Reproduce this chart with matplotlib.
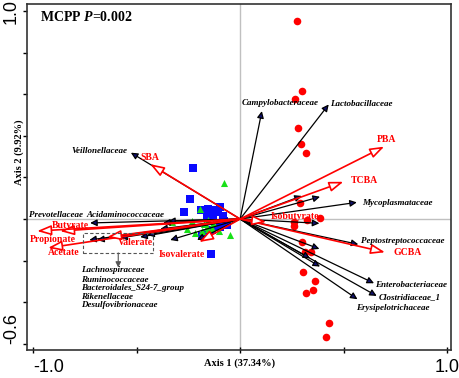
import matplotlib
matplotlib.use("Agg")
import matplotlib.pyplot as plt
from matplotlib.patches import FancyArrowPatch, Rectangle

plt.rcParams["mathtext.fontset"] = "custom"
plt.rcParams["mathtext.bfit"] = "Liberation Serif:italic:bold"
plt.rcParams["mathtext.it"] = "Liberation Serif:italic:bold"
plt.rcParams["mathtext.rm"] = "Liberation Serif:bold"

# muestras (Axis 1, Axis 2)
rojo_x = [0.274, 0.301, 0.267, 0.282, 0.293, 0.317, 0.290, 0.262, 0.262, 0.325,
          0.386, 0.298, 0.314, 0.343, 0.306, 0.362, 0.350, 0.319, 0.431, 0.414]
rojo_y = [0.953, 0.617, 0.578, 0.436, 0.359, 0.319, 0.075, -0.014, -0.034, -0.005,
          0.003, -0.111, -0.157, -0.157, -0.253, -0.298, -0.341, -0.356, -0.501, -0.569]

azul_x = [-0.227, -0.242, -0.271, -0.188, -0.155, -0.121, -0.097, -0.106, -0.159,
          -0.130, -0.082, -0.077, -0.063, -0.097, -0.164, -0.184, -0.135, -0.140]
azul_y = [0.245, 0.096, 0.034, 0.043, 0.048, 0.043, 0.058, 0.034, 0.019,
          0.010, 0.014, -0.010, -0.029, -0.038, -0.067, -0.082, -0.053, -0.168]

verde_x = [-0.077, -0.193, -0.327, -0.233, -0.153, -0.129, -0.257, -0.217,
           -0.185, -0.153, -0.137, -0.100, -0.048, -0.161, -0.174]
verde_y = [0.175, 0.047, -0.016, -0.010, -0.005, -0.021, -0.050, -0.066,
           -0.056, -0.050, -0.045, -0.056, -0.077, -0.037, -0.024]

# familias bacterianas (flechas negras)
familias = ["Veillonellaceae", "Campylobacteraceae", "Lactobacillaceae", "Mycoplasmataceae",
            "Peptostreptococcaceae", "Enterobacteriaceae", "Clostridiaceae_1",
            "Erysipelotrichaceae", "Prevotellaceae", "Acidaminococcaceae",
            "Lachnospiraceae", "Ruminococcaceae", "Bacteroidales_S24-7_group",
            "Rikenellaceae", "Desulfovibrionaceae",
            "", "", "", "", "", "", "", "", "", ""]
fam_x = [-0.528, 0.105, 0.428, 0.564, 0.571, 0.647, 0.660, 0.567, -0.725, -0.348,
         -0.729, -0.691, -0.580, -0.483, -0.449,
         0.298, 0.386, 0.383, 0.383, 0.338, 0.386, -0.372, -0.386, -0.338, -0.208]
fam_y = [0.319, 0.519, 0.551, 0.080, -0.122, -0.309, -0.370, -0.386, -0.019, -0.010,
         -0.101, -0.101, -0.091, -0.087, -0.077,
         0.111, 0.107, -0.021, -0.144, -0.189, -0.229, -0.018, -0.048, -0.101, -0.101]

# variables ambientales (flechas rojas)
variables = ["SBA", "PBA", "TCBA", "GCBA", "Isobutyrate", "Butyrate", "Propionate",
             "Acetate", "Valerate", "Isovalerate"]
var_x = [-0.435, 0.696, 0.499, 0.700, 0.126, -0.870, -0.981, -0.928, -0.643, -0.198]
var_y = [0.264, 0.348, 0.179, -0.160, -0.014, -0.058, -0.058, -0.139, -0.087, -0.111]

# posiciones de etiquetas
pos_fam = {
    "Veillonellaceae": (-0.546, 0.327, "right"),
    "Campylobacteraceae": (0.193, 0.558, "center"),
    "Lactobacillaceae": (0.435, 0.553, "left"),
    "Mycoplasmataceae": (0.589, 0.077, "left"),
    "Peptostreptococcaceae": (0.585, -0.106, "left"),
    "Enterobacteriaceae": (0.652, -0.317, "left"),
    "Clostridiaceae_1": (0.671, -0.375, "left"),
    "Erysipelotrichaceae": (0.560, -0.428, "left"),
    "Prevotellaceae": (-1.019, 0.019, "left"),
    "Acidaminococcaceae": (-0.744, 0.019, "left"),
}
lista_caja = ["Lachnospiraceae", "Ruminococcaceae", "Bacteroidales_S24-7_group",
              "Rikenellaceae", "Desulfovibrionaceae"]
lista_y = [-0.245, -0.291, -0.334, -0.375, -0.413]
pos_var = {
    "SBA": (-0.435, 0.298, "center"),
    "PBA": (0.662, 0.380, "left"),
    "TCBA": (0.536, 0.183, "left"),
    "GCBA": (0.739, -0.163, "left"),
    "Isobutyrate": (0.150, 0.010, "left"),
    "Butyrate": (-0.821, -0.029, "center"),
    "Propionate": (-1.014, -0.101, "left"),
    "Acetate": (-0.928, -0.163, "left"),
    "Valerate": (-0.589, -0.111, "left"),
    "Isovalerate": (-0.396, -0.173, "left"),
}

serif = "Liberation Serif"

fig = plt.figure(figsize=(4.59, 3.78), dpi=100)
ax = fig.add_axes([0.0588, 0.0741, 0.9238, 0.9153])
ax.set_xlim(-1.03, 1.019)
ax.set_ylim(-0.63, 1.034)

ax.axhline(0, color="#c0c0c0", lw=1, zorder=0)
ax.axvline(0, color="#c0c0c0", lw=1, zorder=0)

ax.scatter(rojo_x, rojo_y, s=30, marker="o", color="#ff0000", zorder=2, linewidths=0)
ax.scatter(azul_x, azul_y, s=32, marker="s", color="#0a0aff", zorder=2, linewidths=0)
ax.scatter(verde_x, verde_y, s=26, marker="^", color="#18e018", zorder=2, linewidths=0)

for x, y in zip(fam_x, fam_y):
    ax.add_patch(FancyArrowPatch((0, 0), (x, y), arrowstyle="-|>,head_length=0.45,head_width=0.22",
                                 mutation_scale=9, lw=0.9, ec="black", fc="#101070",
                                 shrinkA=0, shrinkB=0, zorder=3))

for x, y in zip(var_x, var_y):
    ax.add_patch(FancyArrowPatch((0, 0), (x, y), arrowstyle="-|>,head_length=0.85,head_width=0.3",
                                 mutation_scale=10, lw=1.2, ec="#ff0000", fc="white",
                                 shrinkA=0, shrinkB=0, zorder=4))

for nombre, (x, y, ha) in pos_fam.items():
    ax.text(x, y, nombre, ha=ha, va="center", fontsize=6.5, family=serif,
            style="italic", weight="bold", zorder=5)
for nombre, y in zip(lista_caja, lista_y):
    ax.text(-0.768, y, nombre, ha="left", va="center", fontsize=6.5, family=serif,
            style="italic", weight="bold", zorder=5)
for nombre, (x, y, ha) in pos_var.items():
    ax.text(x, y, nombre, ha=ha, va="center", fontsize=7, family=serif,
            weight="bold", color="#ff0000", zorder=5)

ax.add_patch(Rectangle((-0.758, -0.163), 0.338, 0.096, fill=False, ls=(0, (3, 2)),
                       ec="#555555", lw=0.8, zorder=5))
ax.annotate("", xy=(-0.589, -0.233), xytext=(-0.589, -0.163),
            arrowprops=dict(arrowstyle="-|>", color="#555555", lw=0.8,
                            mutation_scale=8, shrinkA=0, shrinkB=0))

ax.text(-0.966, 0.971, "MCPP $\\mathit{P}$=0.002", ha="left", va="center",
        fontsize=10, family=serif, weight="bold")

ax.set_xticks([-1.0, -0.5, 0, 0.5, 1.0])
ax.set_xticklabels(["-1.0", "", "", "", "1.0"], fontsize=13, family="Liberation Sans")
ax.get_xticklabels()[0].set_ha("left")
ax.set_yticks([-0.6, -0.4, -0.2, 0, 0.2, 0.4, 0.6, 0.8, 1.0])
ax.set_yticklabels(["-0.6", "", "", "", "", "", "", "", "1.0"], fontsize=13,
                   family="Liberation Sans", rotation=90)
ax.get_yticklabels()[0].set_va("bottom")
ax.get_yticklabels()[-1].set_va("center")
ax.tick_params(axis="x", direction="inout", length=5, width=1, pad=4)
ax.tick_params(axis="y", direction="out", length=3, width=1, pad=2)

for s in ax.spines.values():
    s.set_color("#333333")
    s.set_linewidth(1.2)

fig.text(240 / 459, 1 - 363 / 378, "Axis 1 (37.34%)", ha="center", va="center",
         fontsize=7.5, family=serif, weight="bold")
fig.text(19 / 459, 1 - 152 / 378, "Axis 2 (9.92%)", ha="center", va="center",
         rotation=90, fontsize=7.5, family=serif, weight="bold")

fig.savefig("out.png", dpi=100)
